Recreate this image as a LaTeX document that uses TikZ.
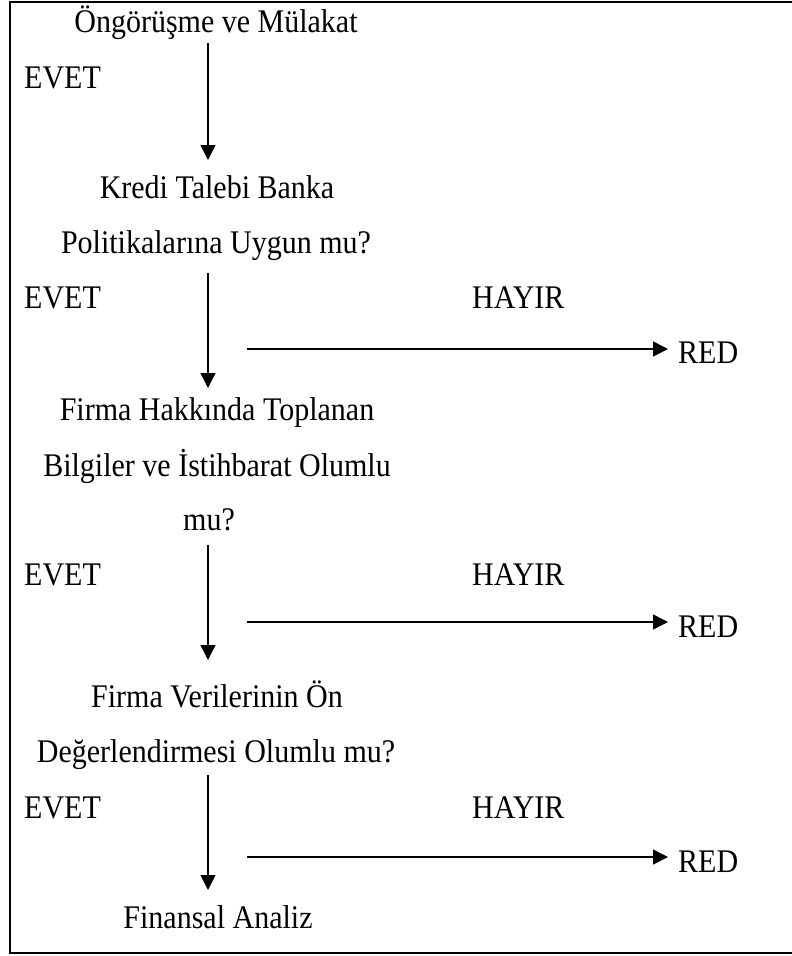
\documentclass[tikz,border=0pt]{standalone}
\usepackage{fontspec}
\setmainfont{Liberation Serif}
\usetikzlibrary{arrows.meta}
\tikzset{
  txt/.style={inner sep=0pt, anchor=base, font=\fontsize{30}{30}\selectfont},
  lbl/.style={inner sep=0pt, anchor=base west, font=\fontsize{30}{30}\selectfont},
  rednode/.style={inner ysep=0pt, inner xsep=10pt, anchor=base west, font=\fontsize{30}{30}\selectfont},
  arr/.style={line width=1.5pt, -{Triangle[width=15pt,length=15pt]}},
  frame/.style={line width=2pt}
}
\newcommand{\tx}[1]{\scalebox{1}[1.1]{#1}}
\begin{document}
\begin{tikzpicture}[x=1pt,y=1pt]
\useasboundingbox (0,0) rectangle (792,-956);
\begin{scope}
\clip (0,0) rectangle (792,-956);
\draw[frame] (10,-2) rectangle (794,-953);
\end{scope}
% main column
\node[txt] (t1) at (216,-32) {\tx{Öngörüşme ve Mülakat}};
\node[txt] (t2) at (217,-198) {\tx{Kredi Talebi Banka}};
\node[txt] (t3) at (216,-253) {\tx{Politikalarına Uygun mu?}};
\node[txt] (t4) at (217,-420) {\tx{Firma Hakkında Toplanan}};
\node[txt] (t5) at (217,-476) {\tx{Bilgiler ve İstihbarat Olumlu}};
\node[txt] (t6) at (209,-530) {\tx{mu?}};
\node[txt] (t7) at (217,-707) {\tx{Firma Verilerinin Ön}};
\node[txt] (t8) at (216,-762) {\tx{Değerlendirmesi Olumlu mu?}};
\node[txt] (t9) at (218,-928) {\tx{Finansal Analiz}};
% EVET labels
\node[lbl] (e1) at (24,-88) {\tx{EVET}};
\node[lbl] (e2) at (24,-308) {\tx{EVET}};
\node[lbl] (e3) at (24,-585) {\tx{EVET}};
\node[lbl] (e4) at (24,-818) {\tx{EVET}};
% HAYIR labels
\node[lbl] (h1) at (472,-308) {\tx{HAYIR}};
\node[lbl] (h2) at (472,-585) {\tx{HAYIR}};
\node[lbl] (h3) at (472,-818) {\tx{HAYIR}};
% RED nodes
\node[rednode] (r1) at (668,-363) {\tx{RED}};
\node[rednode] (r2) at (668,-637) {\tx{RED}};
\node[rednode] (r3) at (668,-872) {\tx{RED}};
% vertical arrow ends
\coordinate (v1a) at (208,-43);  \coordinate (v1b) at (208,-160);
\coordinate (v2a) at (208,-273); \coordinate (v2b) at (208,-388);
\coordinate (v3a) at (208,-545); \coordinate (v3b) at (208,-660);
\coordinate (v4a) at (208,-775); \coordinate (v4b) at (208,-890);
\draw[arr] (v1a) -- (v1b);
\draw[arr] (v2a) -- (v2b);
\draw[arr] (v3a) -- (v3b);
\draw[arr] (v4a) -- (v4b);
% horizontal arrows
\coordinate (s1) at (247,-349);
\coordinate (s2) at (247,-622);
\coordinate (s3) at (247,-857);
\draw[arr] (s1) -- (s1 -| r1.west);
\draw[arr] (s2) -- (s2 -| r2.west);
\draw[arr] (s3) -- (s3 -| r3.west);
\end{tikzpicture}
\end{document}
